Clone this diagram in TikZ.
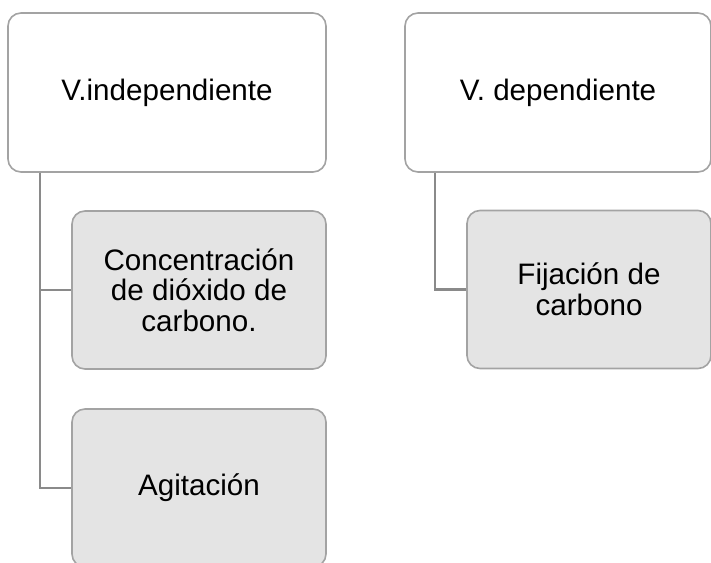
\documentclass[tikz,border=0pt]{standalone}
\usepackage{fontspec}
\setmainfont{Liberation Sans}
\begin{document}
\begin{tikzpicture}[x=1pt,y=-1pt,
  parentbox/.style={draw=boxgray, line width=1.6pt, rounded corners=13pt, fill=white,
    align=center, font=\fontsize{29.6}{30.7}\selectfont, inner sep=0pt},
  childbox/.style={parentbox, fill=childfill},
  link/.style={draw=linkgray, line width=2.2pt}]
\definecolor{boxgray}{HTML}{A3A3A3}
\definecolor{childfill}{HTML}{E4E4E4}
\definecolor{linkgray}{HTML}{8A8A8A}
\useasboundingbox (0,0) rectangle (711,562);
\node[parentbox, minimum width=318pt, minimum height=159pt] (b1) at (167,92.5) {V.independiente};
\node[parentbox, minimum width=306pt, minimum height=159pt] (b2) at (558,92.5) {V. dependiente};
\node[childbox, minimum width=254pt, minimum height=158pt] (c1) at (199,290) {Concentración\\de dióxido de\\carbono.};
\node[childbox, minimum width=254pt, minimum height=158pt] (c2) at (199,488) {Agitación};
\node[childbox, minimum width=244pt, minimum height=158pt] (c3) at (589,289.5) {Fijación de\\carbono};
\draw[link] ([xshift=32.7pt]b1.south west) |- (c1.west);
\draw[link] ([xshift=32.7pt]b1.south west) |- (c2.west);
\draw[link] ([xshift=31pt]b2.south west) |- (c3.west);
\end{tikzpicture}
\end{document}
